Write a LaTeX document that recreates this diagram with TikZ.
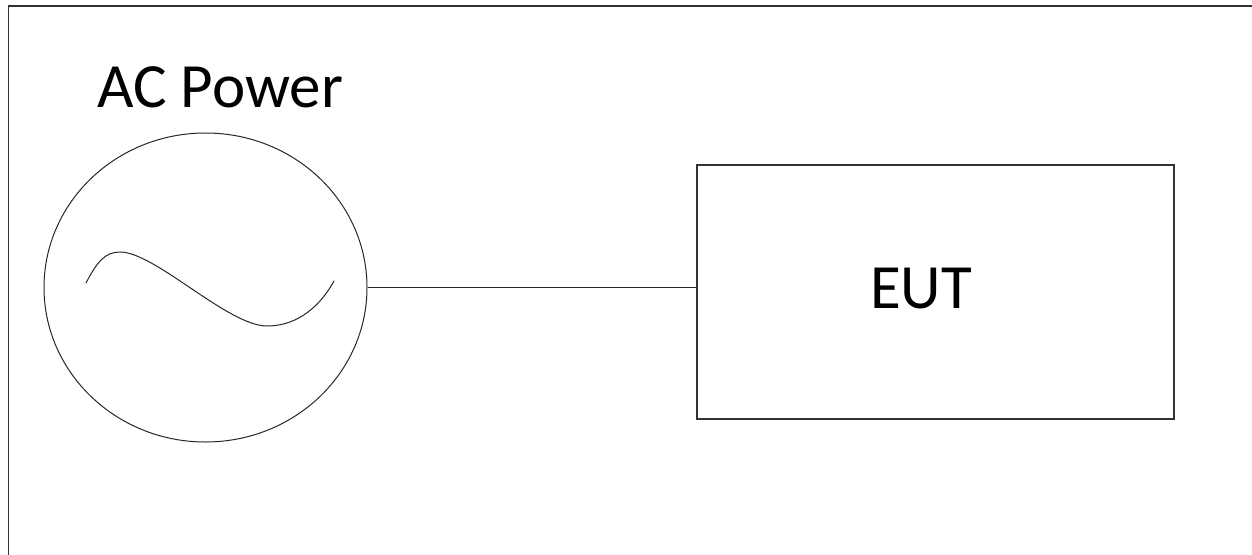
\documentclass[tikz,border=0pt]{standalone}
\usepackage{fontspec}
\setmainfont{Carlito}
\usetikzlibrary{shapes.geometric}
\begin{document}
\begin{tikzpicture}[x=1pt,y=-1pt,
  thinline/.style={draw=black!85,line width=1pt},
  thickline/.style={draw=black!80,line width=1.8pt},
  lbl/.style={font=\fontsize{63}{70}\selectfont,inner sep=0pt,anchor=base west}]
\useasboundingbox (0,0) rectangle (1252,554);
\draw[thickline] (8.5,570) -- (8.5,6) -- (1270,6);
\node[ellipse,thinline,minimum width=323pt,minimum height=309pt,inner sep=0pt] (src) at (205.5,287.5) {};
\node[rectangle,thickline,minimum width=477pt,minimum height=254pt,inner sep=0pt] (eut) at (935.5,292) {};
\node[lbl] (eutlbl) at (870,308) {EUT};
\node[lbl] (aclbl) at (97,107) {AC Power};
\draw[thinline] (src.east) -- (src.east -| eut.west);
\draw[thinline,line cap=round] (86,283) .. controls (97,262) and (105,252) .. (120,252)
  .. controls (155,252) and (228,326) .. (267,326)
  .. controls (300,326) and (322,303) .. (334,281);
\end{tikzpicture}
\end{document}
